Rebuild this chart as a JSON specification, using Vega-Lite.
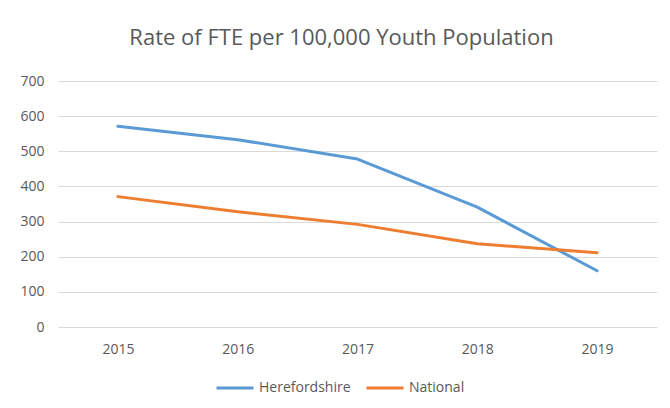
{
  "$schema": "https://vega.github.io/schema/vega-lite/v6.json",
  "width": 599,
  "height": 246,
  "autosize": {"type": "none"},
  "padding": {"left": 58, "top": 81, "right": 13, "bottom": 81},
  "background": "white",
  "title": {
    "text": "Rate of FTE per 100,000 Youth Population",
    "font": "Open Sans",
    "fontSize": 22,
    "fontWeight": "normal",
    "color": "#595959",
    "anchor": "middle",
    "dx": -16,
    "offset": 24
  },
  "config": {
    "view": {"stroke": null},
    "axis": {
      "labelFont": "Open Sans",
      "labelFontSize": 14,
      "labelColor": "#595959",
      "gridColor": "#d9d9d9",
      "gridWidth": 1,
      "ticks": false,
      "domain": false,
      "title": null
    },
    "legend": {
      "labelFont": "Open Sans",
      "labelFontSize": 14,
      "labelColor": "#595959"
    }
  },
  "data": {
    "values": [
      {"year": "2015", "series": "Herefordshire", "rate": 571},
      {"year": "2016", "series": "Herefordshire", "rate": 533},
      {"year": "2017", "series": "Herefordshire", "rate": 478},
      {"year": "2018", "series": "Herefordshire", "rate": 341},
      {"year": "2019", "series": "Herefordshire", "rate": 160},
      {"year": "2015", "series": "National", "rate": 371},
      {"year": "2016", "series": "National", "rate": 328},
      {"year": "2017", "series": "National", "rate": 292},
      {"year": "2018", "series": "National", "rate": 237},
      {"year": "2019", "series": "National", "rate": 211}
    ]
  },
  "mark": {"type": "line", "strokeWidth": 3, "strokeCap": "round", "strokeJoin": "round"},
  "encoding": {
    "x": {
      "field": "year",
      "type": "ordinal",
      "scale": {"type": "point", "padding": 0.5},
      "axis": {"labelAngle": 0, "labelPadding": 15, "grid": false}
    },
    "y": {
      "field": "rate",
      "type": "quantitative",
      "scale": {"domain": [0, 700], "nice": false},
      "axis": {"values": [0, 100, 200, 300, 400, 500, 600, 700], "labelPadding": 14, "grid": true}
    },
    "color": {
      "field": "series",
      "type": "nominal",
      "scale": {"domain": ["Herefordshire", "National"], "range": ["#5B9BD5", "#ED7D31"]},
      "legend": {
        "title": null,
        "orient": "none",
        "direction": "horizontal",
        "legendX": 157,
        "legendY": 287,
        "symbolType": "stroke",
        "symbolSize": 1369,
        "symbolStrokeWidth": 3,
        "labelOffset": 4,
        "columnPadding": 9
      }
    }
  }
}
